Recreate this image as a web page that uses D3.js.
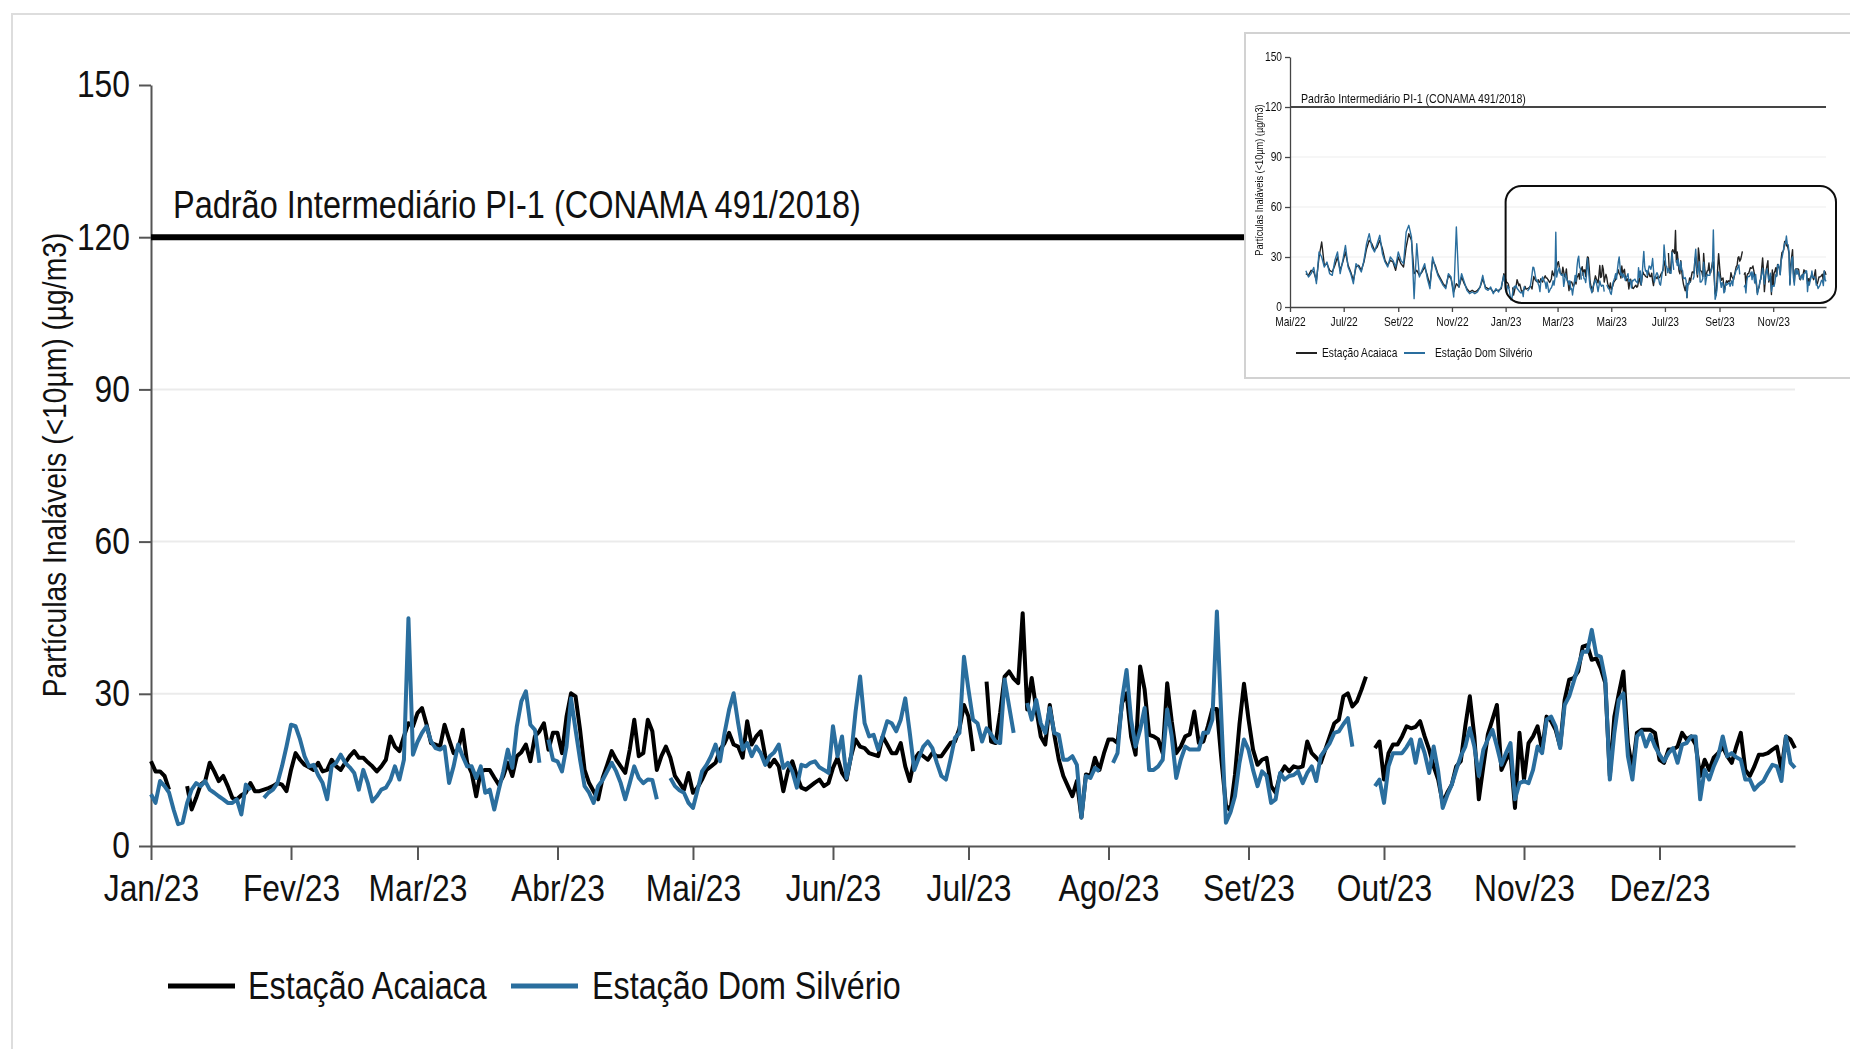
<!DOCTYPE html>
<html>
<head>
<meta charset="utf-8">
<script src="https://cdn.jsdelivr.net/npm/d3@7"></script>
<style>
  html, body { margin: 0; padding: 0; background: #fff; }
  svg { display: block; }
  text { font-family: "Liberation Sans", Arial, sans-serif; fill: #111; }
</style>
</head>
<body>
<svg id="chart" width="1850" height="1049"></svg>
<script>
// PM10 daily means (µg/m3), 2023, one value per day from 1 Jan; null = no measurement
const acaiaca2023 = [
  16.7,14.7,14.7,13.8,11.1,null,null,null,11.8,7.2,9.5,12.1,12.8,16.4,14.7,12.8,13.8,11.8,9.5,9.2,10.0,10.5,12.4,10.8,10.8,11.1,11.4,11.8,12.4,12.1,10.8,
  15.0,18.3,17.0,16.0,15.5,15.0,16.4,14.7,15.0,17.0,15.7,15.0,16.4,17.7,18.7,17.4,17.4,16.5,15.7,14.7,15.7,17.0,21.6,19.6,18.7,21.6,24.2,23.6,
  26.2,27.2,24.0,20.3,20.0,19.6,23.9,21.0,18.3,19.0,22.9,16.4,14.4,9.8,14.7,15.0,15.0,13.5,12.1,13.8,16.4,13.8,17.7,18.5,20.0,16.7,21.6,22.6,24.2,19.0,22.3,
  22.3,18.3,25.5,30.1,29.5,22.9,15.0,12.4,10.8,9.2,13.4,16.0,18.7,17.0,15.7,14.4,19.0,24.9,17.7,18.3,24.9,22.6,15.0,17.7,19.6,17.4,13.8,12.5,11.1,14.4,
  10.5,11.5,13.1,15.0,15.7,16.4,19.0,20.3,22.3,20.0,19.6,17.4,24.6,20.0,21.6,22.6,17.7,15.7,17.0,15.7,10.8,14.7,16.7,13.8,11.5,11.1,11.8,12.5,13.1,11.8,12.4,
  15.4,17.4,14.4,13.1,17.7,21.0,19.6,19.3,18.3,18.0,17.7,21.6,20.0,18.3,18.3,20.3,15.7,12.8,17.0,18.3,17.7,17.0,18.3,17.7,17.7,19.0,20.3,20.6,23.2,27.8,
  25.5,18.7,null,null,32.4,20.6,20.3,26.2,33.4,34.4,33.0,32.1,45.9,26.9,33.1,27.0,21.6,20.0,27.8,21.9,17.0,13.8,11.8,9.8,12.8,5.6,14.1,13.8,17.4,15.0,18.3,
  21.0,21.0,20.3,28.2,30.1,21.6,18.0,35.4,30.8,21.9,21.6,21.0,18.3,32.1,24.6,18.3,19.6,21.6,22.0,26.5,20.3,20.6,23.6,27.0,27.0,17.0,8.0,7.0,14.0,24.0,32.0,
  25.0,19.0,16.0,17.0,17.4,11.8,10.5,14.1,15.7,14.7,15.7,15.4,15.7,20.6,18.3,17.4,16.4,19.0,21.6,24.2,24.9,29.5,30.1,27.5,28.5,30.8,33.4,null,19.3,20.6,
  13.1,18.3,20.0,20.0,21.6,23.6,23.2,23.5,24.6,21.6,19.0,15.7,13.1,8.5,10.5,12.1,15.7,16.7,23.6,29.5,21.6,9.2,15.7,22.0,24.9,27.8,15.0,17.0,18.3,7.5,22.3,
  13.1,20.3,21.6,23.6,19.0,25.5,24.6,22.9,19.6,28.8,32.8,33.1,34.4,39.3,39.6,36.7,37.0,35.0,32.1,13.8,25.5,30.1,34.4,20.3,15.0,22.3,22.9,22.9,22.9,22.3,
  17.0,16.4,19.0,19.0,19.6,22.3,21.0,21.6,20.0,13.8,17.0,15.0,17.4,18.3,19.6,17.7,16.4,19.6,22.3,15.0,13.8,15.7,18.0,18.0,18.3,19.0,19.6,15.0,21.6,21.0,19.3
];

const domSilverio2023 = [
  10.2,8.5,12.8,11.8,10.5,7.2,4.3,4.6,8.5,11.1,12.4,11.8,12.8,11.1,10.5,9.8,9.2,8.5,8.5,9.2,6.2,12.1,11.0,null,null,9.5,10.5,11.1,12.4,15.7,19.6,
  23.9,23.6,21.0,17.7,15.7,16.0,14.0,12.4,9.2,15.7,16.4,18.0,16.4,15.5,14.4,11.1,15.0,12.4,8.8,9.8,11.1,11.5,13.0,15.7,13.1,17.0,44.9,18.0,
  20.5,22.3,23.6,20.6,19.3,19.0,19.6,12.4,15.7,20.0,17.7,15.7,15.7,13.4,15.7,10.5,11.1,7.2,11.1,14.7,19.0,15.4,23.6,28.5,30.5,23.9,22.9,16.4,null,21.0,17.0,
  16.7,14.7,19.6,29.1,22.9,17.0,11.8,10.5,8.5,11.8,13.0,14.7,16.4,14.7,12.4,9.2,12.4,15.7,13.4,12.4,13.1,13.0,9.2,null,null,13.4,11.8,11.0,10.5,8.5,
  7.5,11.0,14.7,16.0,17.7,20.0,16.7,22.3,26.9,30.1,24.2,19.0,20.3,17.7,19.6,18.3,16.0,17.7,18.5,20.0,15.4,16.4,14.7,11.5,16.0,15.7,16.4,16.7,15.5,15.0,14.4,
  23.6,17.7,21.6,13.4,17.7,26.5,33.4,24.2,21.6,21.9,19.0,21.6,24.6,24.2,22.6,24.9,29.1,22.3,15.0,17.4,19.6,20.6,19.3,16.4,13.8,13.1,17.0,21.3,22.3,37.3,
  30.8,24.9,24.2,20.6,23.2,22.0,20.6,20.3,32.8,27.5,22.3,null,null,28.2,24.9,28.8,24.2,22.3,27.2,22.3,21.9,17.0,17.0,17.7,16.0,5.6,13.8,13.4,15.4,14.7,null,
  null,16.4,18.3,28.8,34.7,24.9,19.6,22.9,27.2,15.0,15.0,15.7,17.0,26.9,21.6,13.4,17.0,19.6,19.0,19.0,19.0,22.3,22.3,24.9,46.2,25.0,4.6,6.6,9.8,16.4,21.0,
  19.0,15.0,11.8,14.7,13.8,8.5,9.2,14.4,13.1,13.8,14.0,14.7,12.4,14.4,15.7,12.8,17.7,19.0,20.3,22.3,22.6,24.0,25.2,19.6,null,null,null,null,11.8,13.1,
  8.5,15.7,18.3,18.3,18.3,19.5,21.0,16.4,21.0,18.3,14.4,19.6,14.7,7.5,10.0,12.1,15.0,17.7,19.6,23.2,19.6,13.8,19.0,21.0,22.9,19.6,16.0,18.3,20.3,9.2,12.4,
  12.8,12.4,15.0,19.6,18.3,24.9,25.5,23.6,19.3,27.8,29.5,32.4,35.4,38.3,38.3,42.6,37.7,37.3,32.8,13.1,22.3,28.8,30.1,17.7,13.1,21.6,22.6,19.6,21.9,19.6,
  18.0,16.7,18.3,19.3,16.4,20.0,20.3,21.6,21.6,9.2,15.0,13.1,15.7,17.7,21.6,17.7,18.3,17.5,17.0,13.1,13.1,11.1,12.1,12.8,14.5,16.0,15.7,12.8,21.6,16.4,15.4
];

// Earlier period (from 19 May 2022), one value every 3 days, shown in the overview panel
const acaiaca2022 = [
  20,19,22,21,16,30,39,25,26,22, 21,25,30,22,27,33,25,21,16,24,
  25,22,27,35,40,38,34,36,40,35, 28,25,28,27,22,30,26,24,36,44,
  40,20,22,19,21,24,19,13,28,25, 20,17,14,12,19,17,9,14,12,18,
  14,11,9,10,9,10,12,17,12,11, 11,9,10,10,11,20
];
const domSilverio2022 = [
  21.7,18,20,23.7,14,33,30,24,27,20, 19,28,33,20,28,37,24,20,14,26,
  24,21,28,38,44,36,33,38,43,32, 27,24,30,28,24,33,28,26,45,49,
  42,5,38,18,22,26,17,11,30,24, 19,16,13,11,20,18,6,48,12,20,
  15,10,8,9,8,9,12,19,11,10, 12,8,11,9,12,19
];

const mesesAbrev = ["Jan","Fev","Mar","Abr","Mai","Jun","Jul","Ago","Set","Out","Nov","Dez"];
const yTicks = [0, 30, 60, 90, 120, 150];
const gradeValores = [30, 60, 90];
const limitePI1 = 120;
const rotuloLimite = "Padrão Intermediário PI-1 (CONAMA 491/2018)";
const tituloY = "Partículas Inaláveis (<10µm) (µg/m3)";
const nomesEstacoes = ["Estação Acaiaca", "Estação Dom Silvério"];
const cores = ["#000000", "#2a6e9e"];

// ---------------------------------------------------------------
const svg = d3.select("#chart");
const inicio2023 = new Date(2023, 0, 1);
const inicio2022 = new Date(2022, 4, 19);

const diario = arr => arr.map((v, i) => ({ date: d3.timeDay.offset(inicio2023, i), v }));
const cadaTres = arr => arr.map((v, i) => ({ date: d3.timeDay.offset(inicio2022, i * 3), v }));
const rotuloMes = d => mesesAbrev[d.getMonth()] + "/" + String(d.getFullYear()).slice(2);

const series2023 = [diario(acaiaca2023), diario(domSilverio2023)];
const series2022 = [cadaTres(acaiaca2022), cadaTres(domSilverio2022)];

// narrow lettering: squeeze glyphs horizontally, keeping the anchor point in place
function estreitar(sel, sx) {
  sel.each(function () {
    const t = d3.select(this);
    const x0 = +t.attr("x") || 0;
    const tr = t.attr("transform") || "";
    t.attr("x", x0 / sx).attr("transform", `${tr} scale(${sx},1)`);
  });
}
function texto(parent, x0, y0, size, str, sx) {
  return parent.append("text")
    .attr("transform", `translate(${x0},${y0}) scale(${sx},1)`)
    .attr("font-size", size).text(str);
}

// outer frame
svg.append("rect").attr("x", 12).attr("y", 14).attr("width", 1900).attr("height", 1100)
  .attr("fill", "none").attr("stroke", "#dddddd").attr("stroke-width", 2);

// ---------------- main chart ----------------
const x = d3.scaleTime().domain([inicio2023, new Date(2023, 11, 31)]).range([151, 1795]);
const y = d3.scaleLinear().domain([0, 150]).range([846, 85]);

const g = svg.append("g");

g.selectAll("line.grade").data(gradeValores).join("line")
  .attr("class", "grade")
  .attr("x1", x.range()[0]).attr("x2", x.range()[1])
  .attr("y1", d => y(d)).attr("y2", d => y(d))
  .attr("stroke", "#ebebeb").attr("stroke-width", 2);

const eixoY = g.append("g").attr("transform", `translate(${x.range()[0]},0)`)
  .call(d3.axisLeft(y).tickValues(yTicks).tickSize(12).tickSizeOuter(0).tickPadding(9));
eixoY.select(".domain").attr("stroke", "#555").attr("stroke-width", 2);
eixoY.selectAll(".tick line").attr("stroke", "#555").attr("stroke-width", 2);
eixoY.selectAll(".tick text").attr("font-size", 37).attr("fill", "#111")
  .style("font-family", '"Liberation Sans",Arial,sans-serif');
estreitar(eixoY.selectAll(".tick text"), 0.86);

const mesesTicks = d3.timeMonth.range(inicio2023, new Date(2024, 0, 1));
const eixoX = g.append("g").attr("transform", `translate(0,${y(0)})`)
  .call(d3.axisBottom(x).tickValues(mesesTicks).tickFormat(rotuloMes)
    .tickSize(14).tickSizeOuter(0).tickPadding(15));
eixoX.select(".domain").attr("stroke", "#555").attr("stroke-width", 2);
eixoX.selectAll(".tick line").attr("stroke", "#555").attr("stroke-width", 2);
eixoX.selectAll(".tick text").attr("font-size", 37).attr("fill", "#111")
  .style("font-family", '"Liberation Sans",Arial,sans-serif');
estreitar(eixoX.selectAll(".tick text"), 0.86);

g.append("text")
  .attr("transform", `translate(66,465) rotate(-90) scale(0.83,1)`)
  .attr("text-anchor", "middle").attr("font-size", 34)
  .text(tituloY);

// PI-1 limit
g.append("line")
  .attr("x1", x.range()[0]).attr("x2", x.range()[1])
  .attr("y1", y(limitePI1)).attr("y2", y(limitePI1))
  .attr("stroke", "#000").attr("stroke-width", 6);
texto(g, 173, y(limitePI1) - 19, 38, rotuloLimite, 0.855);

const linha = d3.line().defined(d => d.v != null).x(d => x(d.date)).y(d => y(d.v));
series2023.forEach((s, i) => {
  g.append("path").datum(s).attr("d", linha)
    .attr("fill", "none").attr("stroke", cores[i]).attr("stroke-width", 4)
    .attr("stroke-linejoin", "round");
});

// legend
const legenda = g.append("g");
[[168, 248], [511, 592]].forEach(([lx, tx], i) => {
  legenda.append("line").attr("x1", lx).attr("x2", lx + 67).attr("y1", 986).attr("y2", 986)
    .attr("stroke", cores[i]).attr("stroke-width", 5);
  texto(legenda, tx, 999, 38, nomesEstacoes[i], 0.85);
});

// ---------------- overview panel ----------------
const defs = svg.append("defs");
defs.append("filter").attr("id", "suave").append("feGaussianBlur").attr("stdDeviation", 0.55);

svg.append("rect").attr("x", 1245).attr("y", 33).attr("width", 700).attr("height", 345)
  .attr("fill", "#fff").attr("stroke", "#d2d2d2").attr("stroke-width", 2);

const ig = svg.append("g").attr("filter", "url(#suave)");
const ix = d3.scaleTime().domain([new Date(2022, 4, 1), new Date(2023, 11, 31)]).range([1290, 1826]);
const iy = d3.scaleLinear().domain([0, 150]).range([307, 57]);

ig.selectAll("line.grade").data(gradeValores).join("line")
  .attr("class", "grade")
  .attr("x1", ix.range()[0]).attr("x2", ix.range()[1])
  .attr("y1", d => iy(d)).attr("y2", d => iy(d))
  .attr("stroke", "#eeeeee").attr("stroke-width", 1.2);

const ieY = ig.append("g").attr("transform", `translate(${ix.range()[0]},0)`)
  .call(d3.axisLeft(iy).tickValues(yTicks).tickSize(5).tickSizeOuter(0).tickPadding(3));
const ticksInset = d3.timeMonth.every(2).range(new Date(2022, 4, 1), new Date(2023, 11, 31));
const ieX = ig.append("g").attr("transform", `translate(0,${iy(0)})`)
  .call(d3.axisBottom(ix).tickValues(ticksInset).tickFormat(rotuloMes)
    .tickSize(5).tickSizeOuter(0).tickPadding(5));
[ieY, ieX].forEach(a => {
  a.select(".domain").attr("stroke", "#444").attr("stroke-width", 1.3);
  a.selectAll(".tick line").attr("stroke", "#444").attr("stroke-width", 1.3);
  a.selectAll(".tick text").attr("font-size", 12).attr("fill", "#222")
    .style("font-family", '"Liberation Sans",Arial,sans-serif');
  estreitar(a.selectAll(".tick text"), 0.85);
});

ig.append("text")
  .attr("transform", `translate(1263,${(iy(0) + iy(150)) / 2 - 2}) rotate(-90) scale(0.8,1)`)
  .attr("text-anchor", "middle").attr("font-size", 11.5).attr("fill", "#333")
  .text(tituloY);

ig.append("line")
  .attr("x1", ix.range()[0]).attr("x2", ix.range()[1])
  .attr("y1", iy(limitePI1)).attr("y2", iy(limitePI1))
  .attr("stroke", "#444").attr("stroke-width", 2);
texto(ig, 1301, iy(limitePI1) - 4, 12.5, rotuloLimite, 0.85).attr("fill", "#222");

const ilinha = d3.line().defined(d => d.v != null).x(d => ix(d.date)).y(d => iy(d.v));
[0, 1].forEach(i => {
  ig.append("path").datum(series2022[i].concat(series2023[i])).attr("d", ilinha)
    .attr("fill", "none").attr("stroke", cores[i] === "#000000" ? "#222" : cores[i])
    .attr("stroke-width", 1.4).attr("stroke-linejoin", "round");
});

// highlight of the 2023 window
ig.append("rect")
  .attr("x", ix(inicio2023)).attr("y", 186)
  .attr("width", 1836 - ix(inicio2023)).attr("height", 117)
  .attr("rx", 16).attr("fill", "none").attr("stroke", "#111").attr("stroke-width", 2);

[[1296, 1322], [1404, 1435]].forEach(([lx, tx], i) => {
  ig.append("line").attr("x1", lx).attr("x2", lx + 21).attr("y1", 353).attr("y2", 353)
    .attr("stroke", cores[i] === "#000000" ? "#222" : cores[i]).attr("stroke-width", 2);
  texto(ig, tx, 357, 12, nomesEstacoes[i], 0.85).attr("fill", "#222");
});
</script>
</body>
</html>
